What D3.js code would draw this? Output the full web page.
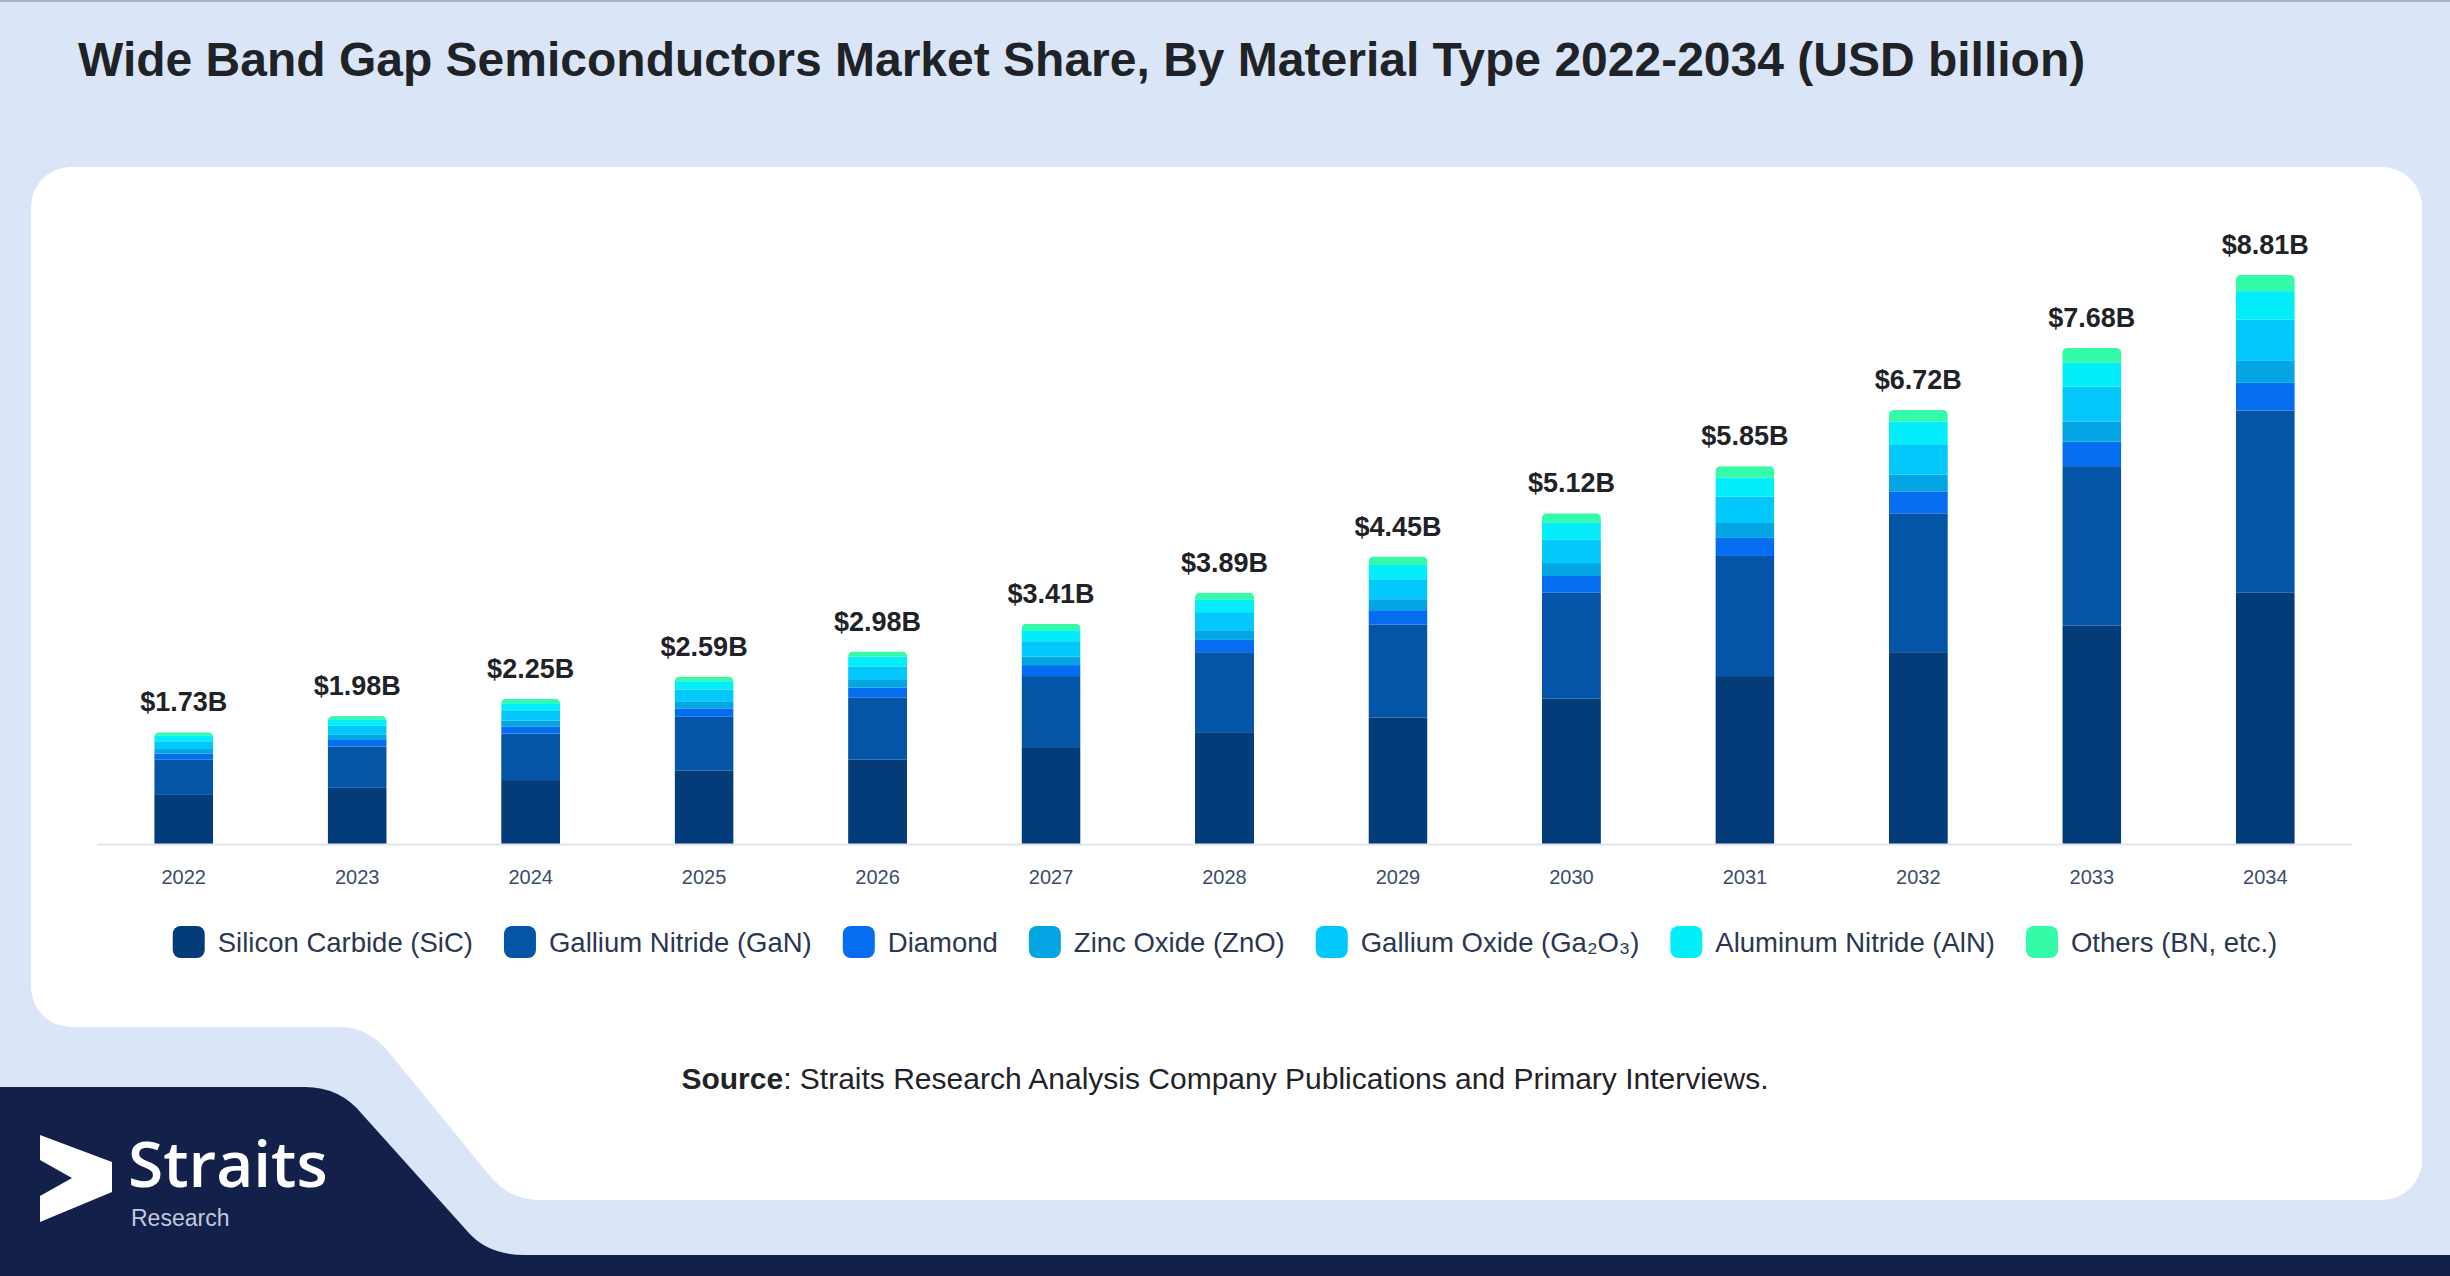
<!DOCTYPE html>
<html>
<head>
<meta charset="utf-8">
<script src="https://cdn.jsdelivr.net/npm/d3@7"></script>
<style>
  body { margin: 0; background: #dae6f8; }
  svg { display: block; }
</style>
</head>
<body>
<div id="chart"></div>
<script>
// values (USD billion)
const years = ["2022", "2023", "2024", "2025", "2026", "2027", "2028", "2029", "2030", "2031", "2032", "2033", "2034"];
const totals = [1.73, 1.98, 2.25, 2.59, 2.98, 3.41, 3.89, 4.45, 5.12, 5.85, 6.72, 7.68, 8.81];
const sic     = [0.76, 0.87, 0.99, 1.14, 1.31, 1.50, 1.72, 1.96, 2.25, 2.60, 2.97, 3.38, 3.89];
const gan     = [0.55, 0.64, 0.72, 0.83, 0.96, 1.10, 1.25, 1.44, 1.64, 1.86, 2.15, 2.47, 2.82];
const diamond = [0.09, 0.10, 0.11, 0.13, 0.15, 0.17, 0.19, 0.22, 0.26, 0.28, 0.34, 0.38, 0.43];
const zno     = [0.07, 0.08, 0.09, 0.10, 0.12, 0.13, 0.15, 0.17, 0.20, 0.23, 0.26, 0.31, 0.34];
const ga2o3   = [0.12, 0.14, 0.16, 0.19, 0.21, 0.24, 0.28, 0.31, 0.36, 0.41, 0.47, 0.54, 0.64];
const aln     = [0.09, 0.10, 0.11, 0.13, 0.15, 0.17, 0.19, 0.22, 0.27, 0.29, 0.35, 0.37, 0.44];
const others  = [0.05, 0.05, 0.07, 0.07, 0.08, 0.10, 0.11, 0.13, 0.14, 0.18, 0.18, 0.23, 0.25];

const seriesKeys = ["sic", "gan", "diamond", "zno", "ga2o3", "aln", "others"];
const seriesNames = ["Silicon Carbide (SiC)", "Gallium Nitride (GaN)", "Diamond", "Zinc Oxide (ZnO)",
  "Gallium Oxide (Ga\u2082O\u2083)", "Aluminum Nitride (AlN)", "Others (BN, etc.)"];
const seriesColors = ["#033c79", "#0454a7", "#056ef0", "#03a5e2", "#02c8fc", "#03eefa", "#33fba8"];

const W = 2450, H = 1276;
const font = "'Liberation Sans', Arial, sans-serif";

const svg = d3.select("#chart").append("svg")
  .attr("width", W)
  .attr("height", H);

// page background and frame shapes
svg.append("rect").attr("width", W).attr("height", H).attr("fill", "#dae6f8");
svg.append("rect").attr("width", W).attr("height", 2).attr("fill", "#a4b0cc");

svg.append("path")
  .attr("d", "M31,207 A40,40 0 0 1 71,167 L2382,167 A40,40 0 0 1 2422,207 L2422,1160 " +
             "A40,40 0 0 1 2382,1200 L540,1200 Q510,1200 490,1176 L392,1056 Q370,1027 340,1027 " +
             "L71,1027 A40,40 0 0 1 31,987 Z")
  .attr("fill", "#ffffff");

svg.append("path")
  .attr("d", "M0,1087 L305,1087 Q340,1087 362,1114 L468,1232 Q488,1255 525,1255 L2450,1255 L2450,1276 L0,1276 Z")
  .attr("fill", "#13204a");

// title
svg.append("text")
  .attr("x", 78)
  .attr("y", 76)
  .attr("font-family", font)
  .attr("font-weight", "bold")
  .attr("font-size", 48)
  .attr("fill", "#1f2328")
  .text("Wide Band Gap Semiconductors Market Share, By Material Type 2022-2034 (USD billion)");

// chart
const baseY = 844, topY = 275;
const table = years.map((yr, i) => ({
  year: yr, total: totals[i],
  sic: sic[i], gan: gan[i], diamond: diamond[i], zno: zno[i],
  ga2o3: ga2o3[i], aln: aln[i], others: others[i]
}));

const x = d3.scaleBand()
  .domain(years)
  .range([97, 2352])
  .paddingInner(0.66)
  .paddingOuter(0.33);

const y = d3.scaleLinear()
  .domain([0, d3.max(totals)])
  .range([baseY, topY]);

const color = d3.scaleOrdinal().domain(seriesKeys).range(seriesColors);

const stacked = d3.stack().keys(seriesKeys)(table);

const defs = svg.append("defs");
defs.selectAll("clipPath")
  .data(table)
  .join("clipPath")
  .attr("id", (d, i) => "bar-clip-" + i)
  .append("rect")
  .attr("x", d => x(d.year))
  .attr("y", d => y(d.total))
  .attr("width", x.bandwidth())
  .attr("height", d => baseY - y(d.total) + 10)
  .attr("rx", 5);

const barGroups = svg.append("g")
  .selectAll("g")
  .data(table)
  .join("g")
  .attr("clip-path", (d, i) => `url(#bar-clip-${i})`);

barGroups.selectAll("rect")
  .data((d, i) => stacked.map(s => ({ key: s.key, v: s[i] })))
  .join("rect")
  .attr("x", d => x(d.v.data.year))
  .attr("y", d => y(d.v[1]))
  .attr("width", x.bandwidth())
  .attr("height", d => y(d.v[0]) - y(d.v[1]))
  .attr("fill", d => color(d.key));

// axis
const xAxis = svg.append("g")
  .attr("transform", `translate(0,${baseY})`)
  .call(d3.axisBottom(x).tickSize(0).tickPadding(26));
xAxis.select(".domain").attr("stroke", "#e1e4ea").attr("stroke-width", 2);
xAxis.selectAll("text")
  .attr("font-family", font)
  .attr("font-size", 20)
  .attr("fill", "#3c4c6b");

// total labels
svg.append("g")
  .selectAll("text")
  .data(table)
  .join("text")
  .attr("x", d => x(d.year) + x.bandwidth() / 2)
  .attr("y", d => y(d.total) - 21)
  .attr("text-anchor", "middle")
  .attr("font-family", font)
  .attr("font-weight", "bold")
  .attr("font-size", 27)
  .attr("fill", "#1f2328")
  .text(d => "$" + d.total.toFixed(2) + "B");

// legend
const legend = svg.append("g");
const sw = 32, swGap = 13, itemGap = 31, legendY = 942;
let lx = 0;
seriesKeys.forEach((k, i) => {
  const item = legend.append("g").attr("transform", `translate(${lx},0)`);
  item.append("rect")
    .attr("x", 0)
    .attr("y", legendY - sw / 2)
    .attr("width", sw)
    .attr("height", sw)
    .attr("rx", 8)
    .attr("fill", seriesColors[i]);
  const t = item.append("text")
    .attr("x", sw + swGap)
    .attr("y", legendY + 10)
    .attr("font-family", font)
    .attr("font-size", 27.5)
    .attr("fill", "#2b3652")
    .text(seriesNames[i]);
  lx += sw + swGap + t.node().getComputedTextLength() + itemGap;
});
legend.attr("transform", `translate(${1225 - (lx - itemGap) / 2},0)`);

// source line
const src = svg.append("text")
  .attr("x", 1225)
  .attr("y", 1089)
  .attr("text-anchor", "middle")
  .attr("font-family", font)
  .attr("font-size", 30)
  .attr("fill", "#1f2328");
src.append("tspan").attr("font-weight", "bold").text("Source");
src.append("tspan").text(": Straits Research Analysis Company Publications and Primary Interviews.");

// logo
svg.append("path")
  .attr("d", "M40,1135 L112,1162 L112,1192 L40,1222 L40,1196 L72,1178 L40,1160 Z")
  .attr("fill", "#ffffff");
svg.append("text")
  .attr("x", 128)
  .attr("y", 1187)
  .attr("font-family", "'Open Sans', sans-serif")
  .attr("font-weight", 600)
  .attr("font-size", 64)
  .attr("fill", "#ffffff")
  .text("Straits");
svg.append("text")
  .attr("x", 131)
  .attr("y", 1226)
  .attr("font-family", font)
  .attr("font-size", 23)
  .attr("fill", "#c3c9dd")
  .text("Research");
</script>
</body>
</html>
